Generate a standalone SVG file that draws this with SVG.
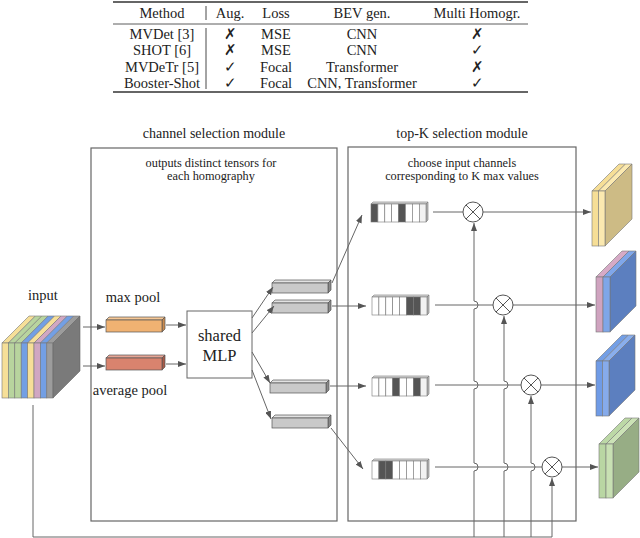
<svg xmlns="http://www.w3.org/2000/svg" width="640" height="538" viewBox="0 0 640 538">
<defs>
<style>
.t{font-family:"Liberation Serif","Times New Roman",serif;fill:#222;text-anchor:middle}
.tb{font-size:14.5px}
.lbl{font-size:14.5px}
.sub{font-size:12.3px}
.ln{stroke:#666;stroke-width:1;fill:none}
.box{stroke:#666;stroke-width:1.2;fill:none}
.tbl{stroke:#333;fill:none}
.edge{stroke:#555;stroke-width:0.7}
.cell{stroke:#777;stroke-width:0.6}
</style>
<marker id="ah" markerWidth="8" markerHeight="6" refX="8" refY="3" orient="auto" markerUnits="userSpaceOnUse">
<path d="M0,0 L8,3 L0,6 z" fill="#555"/>
</marker>
</defs>
<rect width="640" height="538" fill="#fff"/>

<g id="table">
<line class="tbl" x1="113" y1="2" x2="528" y2="2" stroke-width="1.6"/>
<line class="tbl" x1="113" y1="24" x2="528" y2="24" stroke-width="0.8"/>
<line class="tbl" x1="113" y1="92" x2="528" y2="92" stroke-width="1.6"/>
<line class="tbl" x1="206" y1="6" x2="206" y2="20" stroke-width="0.9"/>
<line class="tbl" x1="206" y1="28" x2="206" y2="89" stroke-width="0.9"/>
<g class="t tb">
<text x="162" y="18">Method</text><text x="230" y="18">Aug.</text><text x="276" y="18">Loss</text><text x="362" y="18">BEV gen.</text><text x="477" y="18">Multi Homogr.</text>
<text x="162" y="39">MVDet [3]</text><text x="230" y="39">✗</text><text x="276" y="39">MSE</text><text x="362" y="39">CNN</text><text x="477" y="39">✗</text>
<text x="162" y="55">SHOT [6]</text><text x="230" y="55">✗</text><text x="276" y="55">MSE</text><text x="362" y="55">CNN</text><text x="477" y="55">✓</text>
<text x="162" y="72">MVDeTr [5]</text><text x="230" y="72">✓</text><text x="276" y="72">Focal</text><text x="362" y="72">Transformer</text><text x="477" y="72">✗</text>
<text x="162" y="88">Booster-Shot</text><text x="230" y="88">✓</text><text x="276" y="88">Focal</text><text x="362" y="88">CNN, Transformer</text><text x="477" y="88">✓</text>
</g>
</g>

<g id="channel-selection-module">
<rect class="box" x="91" y="148" width="246" height="373"/>
<text class="t" x="214" y="138" font-size="14">channel selection module</text>
<text class="t sub" x="211" y="167">outputs distinct tensors for</text>
<text class="t sub" x="211" y="180">each homography</text>
</g>

<g id="topk-selection-module">
<rect class="box" x="348" y="147" width="228" height="374"/>
<text class="t" x="462" y="138" font-size="14">top-K selection module</text>
<text class="t sub" x="462" y="167">choose input channels</text>
<text class="t sub" x="462" y="180">corresponding to K max values</text>
</g>

<g id="input">
<text class="t lbl" x="43" y="300">input</text>
<g class="cell">
<polygon points="2,343 8.4,343 35.4,316 29,316" fill="#f6df98"/>
<polygon points="8.4,343 14.8,343 41.8,316 35.4,316" fill="#b8d49e"/>
<polygon points="14.8,343 21.2,343 48.2,316 41.8,316" fill="#b8d49e"/>
<polygon points="21.2,343 27.6,343 54.6,316 48.2,316" fill="#739fe4"/>
<polygon points="27.6,343 34,343 61,316 54.6,316" fill="#f6df98"/>
<polygon points="34,343 40.4,343 67.4,316 61,316" fill="#d0a7c2"/>
<polygon points="40.4,343 46.8,343 73.8,316 67.4,316" fill="#739fe4"/>
<polygon points="46.8,343 53,343 80,316 73.8,316" fill="#9c9c9c"/>
<rect x="2" y="343" width="6.4" height="55" fill="#f6df98"/>
<rect x="8.4" y="343" width="6.4" height="55" fill="#b8d49e"/>
<rect x="14.8" y="343" width="6.4" height="55" fill="#b8d49e"/>
<rect x="21.2" y="343" width="6.4" height="55" fill="#739fe4"/>
<rect x="27.6" y="343" width="6.4" height="55" fill="#f6df98"/>
<rect x="34" y="343" width="6.4" height="55" fill="#d0a7c2"/>
<rect x="40.4" y="343" width="6.4" height="55" fill="#739fe4"/>
<rect x="46.8" y="343" width="6.2" height="55" fill="#9c9c9c"/>
</g>
<polygon points="53,343 80,316 80,371 53,398" fill="#7a7a7a" stroke="#666" stroke-width="0.6"/>
</g>

<g id="max-pool">
<text class="t lbl" x="133" y="302">max pool</text>
<polygon points="106,320 109,317 165,317 162,320" fill="#f7c896" class="edge"/>
<polygon points="162,320 165,317 165,329 162,332" fill="#c98a4e" class="edge"/>
<rect x="106" y="320" width="56" height="12" fill="#f0b272" class="edge"/>
</g>

<g id="average-pool">
<text class="t lbl" x="130" y="395">average pool</text>
<polygon points="106,358 109,355 165,355 162,358" fill="#e6a595" class="edge"/>
<polygon points="162,358 165,355 165,367 162,370" fill="#a85a48" class="edge"/>
<rect x="106" y="358" width="56" height="12" fill="#d9836e" class="edge"/>
</g>

<g id="shared-mlp">
<rect x="187" y="311" width="65" height="67" fill="#fff" stroke="#666" stroke-width="1"/>
<text class="t" x="219.5" y="341" font-size="16.5">shared</text>
<text class="t" x="219.5" y="361" font-size="16.5">MLP</text>
</g>

<g id="tensors">
<g id="tensor-1"><polygon points="272,283 275,280 331,280 328,283" fill="#e2e2e2" class="edge"/><polygon points="328,283 331,280 331,290 328,293" fill="#8a8a8a" class="edge"/><rect x="272" y="283" width="56" height="10" fill="#c9c9c9" class="edge"/></g>
<g id="tensor-2"><polygon points="272,303 275,300 331,300 328,303" fill="#e2e2e2" class="edge"/><polygon points="328,303 331,300 331,310 328,313" fill="#8a8a8a" class="edge"/><rect x="272" y="303" width="56" height="10" fill="#c9c9c9" class="edge"/></g>
<g id="tensor-3"><polygon points="270,383 273,380 329,380 326,383" fill="#e2e2e2" class="edge"/><polygon points="326,383 329,380 329,390 326,393" fill="#8a8a8a" class="edge"/><rect x="270" y="383" width="56" height="10" fill="#c9c9c9" class="edge"/></g>
<g id="tensor-4"><polygon points="272,418 275,415 331,415 328,418" fill="#e2e2e2" class="edge"/><polygon points="328,418 331,415 331,425 328,428" fill="#8a8a8a" class="edge"/><rect x="272" y="418" width="56" height="10" fill="#c9c9c9" class="edge"/></g>
</g>

<g id="selection-bars" class="cell">
<g id="bar-1">
<polygon points="371,204 373,202 428,202 426,204" fill="#ddd"/>
<polygon points="426,204 428,202 428,220 426,222" fill="#bbb"/>
<rect x="371" y="204" width="6.9" height="18" fill="#555"/><rect x="377.9" y="204" width="6.9" height="18" fill="#fff"/><rect x="384.8" y="204" width="6.9" height="18" fill="#fff"/><rect x="391.7" y="204" width="6.9" height="18" fill="#fff"/><rect x="398.6" y="204" width="6.9" height="18" fill="#555"/><rect x="405.5" y="204" width="6.9" height="18" fill="#fff"/><rect x="412.4" y="204" width="6.9" height="18" fill="#fff"/><rect x="419.3" y="204" width="6.7" height="18" fill="#f2f2f2"/>
</g>
<g id="bar-2">
<polygon points="372,297 374,295 429,295 427,297" fill="#ddd"/>
<polygon points="427,297 429,295 429,313 427,315" fill="#bbb"/>
<rect x="372" y="297" width="6.9" height="18" fill="#fff"/><rect x="378.9" y="297" width="6.9" height="18" fill="#fff"/><rect x="385.8" y="297" width="6.9" height="18" fill="#fff"/><rect x="392.7" y="297" width="6.9" height="18" fill="#fff"/><rect x="399.6" y="297" width="6.9" height="18" fill="#fff"/><rect x="406.5" y="297" width="6.9" height="18" fill="#555"/><rect x="413.4" y="297" width="6.9" height="18" fill="#555"/><rect x="420.3" y="297" width="6.7" height="18" fill="#f2f2f2"/>
</g>
<g id="bar-3">
<polygon points="372,378 374,376 429,376 427,378" fill="#ddd"/>
<polygon points="427,378 429,376 429,394 427,396" fill="#bbb"/>
<rect x="372" y="378" width="6.9" height="18" fill="#fff"/><rect x="378.9" y="378" width="6.9" height="18" fill="#fff"/><rect x="385.8" y="378" width="6.9" height="18" fill="#fff"/><rect x="392.7" y="378" width="6.9" height="18" fill="#555"/><rect x="399.6" y="378" width="6.9" height="18" fill="#fff"/><rect x="406.5" y="378" width="6.9" height="18" fill="#fff"/><rect x="413.4" y="378" width="6.9" height="18" fill="#555"/><rect x="420.3" y="378" width="6.7" height="18" fill="#f2f2f2"/>
</g>
<g id="bar-4">
<polygon points="372,461 374,459 429,459 427,461" fill="#ddd"/>
<polygon points="427,461 429,459 429,477 427,479" fill="#bbb"/>
<rect x="372" y="461" width="6.9" height="18" fill="#fff"/><rect x="378.9" y="461" width="6.9" height="18" fill="#555"/><rect x="385.8" y="461" width="6.9" height="18" fill="#555"/><rect x="392.7" y="461" width="6.9" height="18" fill="#fff"/><rect x="399.6" y="461" width="6.9" height="18" fill="#fff"/><rect x="406.5" y="461" width="6.9" height="18" fill="#fff"/><rect x="413.4" y="461" width="6.9" height="18" fill="#fff"/><rect x="420.3" y="461" width="6.7" height="18" fill="#f2f2f2"/>
</g>
</g>

<g id="connectors" class="ln">
<path d="M83,327 H105" marker-end="url(#ah)"/>
<path d="M83,366 H105" marker-end="url(#ah)"/>
<path d="M166,325 H186" marker-end="url(#ah)"/>
<path d="M166,364 H186" marker-end="url(#ah)"/>
<path d="M252,318 L273,287" marker-end="url(#ah)"/>
<path d="M252,333 L274,306" marker-end="url(#ah)"/>
<path d="M252,352 L270,383" marker-end="url(#ah)"/>
<path d="M252,370 L271,419" marker-end="url(#ah)"/>
<path d="M332,283 L362,215" marker-end="url(#ah)"/>
<path d="M332,306 H366" marker-end="url(#ah)"/>
<path d="M330,386 H366" marker-end="url(#ah)"/>
<path d="M331,428 L363,469" marker-end="url(#ah)"/>
<path d="M433,212 H463"/>
<path d="M483,212 H591" marker-end="url(#ah)"/>
<path d="M435,305 H493"/>
<path d="M513,305 H595" marker-end="url(#ah)"/>
<path d="M435,385 H521"/>
<path d="M541,385 H595" marker-end="url(#ah)"/>
<path d="M435,467 H542"/>
<path d="M562,467 H598" marker-end="url(#ah)"/>
<path d="M33,405 V537 H552"/>
<path d="M474,537 V471 a4,4 0 0 0 0,-8 V389 a4,4 0 0 0 0,-8 V309 a4,4 0 0 0 0,-8 V223" marker-end="url(#ah)"/>
<path d="M504,537 V471 a4,4 0 0 0 0,-8 V389 a4,4 0 0 0 0,-8 V316" marker-end="url(#ah)"/>
<path d="M531,537 V471 a4,4 0 0 0 0,-8 V396" marker-end="url(#ah)"/>
<path d="M552,537 V478" marker-end="url(#ah)"/>
</g>

<g id="multipliers" fill="#fff" stroke="#555" stroke-width="1">
<g id="mul-1"><circle cx="473" cy="212" r="10"/><path d="M466,205 L480,219 M480,205 L466,219"/></g>
<g id="mul-2"><circle cx="503" cy="305" r="10"/><path d="M496,298 L510,312 M510,298 L496,312"/></g>
<g id="mul-3"><circle cx="531" cy="385" r="10"/><path d="M524,378 L538,392 M538,378 L524,392"/></g>
<g id="mul-4"><circle cx="552" cy="467" r="10"/><path d="M545,460 L559,474 M559,460 L545,474"/></g>
</g>

<g id="outputs" stroke="#777" stroke-width="0.6">
<g id="out-1">
<polygon points="592,191 598.5,191 625.5,164 619,164" fill="#f6de96"/>
<polygon points="598.5,191 605,191 632,164 625.5,164" fill="#fbe9b0"/>
<polygon points="605,191 632,164 632,219 605,246" fill="#cdbb85"/>
<rect x="592" y="191" width="6.5" height="55" fill="#f6de96"/><rect x="598.5" y="191" width="6.5" height="55" fill="#fbe9b0"/>
</g>
<g id="out-2">
<polygon points="596,277 603,277 629,251 622,251" fill="#d6aac6"/>
<polygon points="603,277 610,277 636,251 629,251" fill="#80a7ea"/>
<polygon points="610,277 636,251 636,306 610,332" fill="#5c7fbf"/>
<rect x="596" y="277" width="7" height="55" fill="#cfa3bf"/><rect x="603" y="277" width="7" height="55" fill="#7ea6e8"/>
</g>
<g id="out-3">
<polygon points="596,361 602.5,361 628.5,335 622,335" fill="#739fe6"/>
<polygon points="602.5,361 609,361 635,335 628.5,335" fill="#89aeec"/>
<polygon points="609,361 635,335 635,390 609,416" fill="#5c7fbf"/>
<rect x="596" y="361" width="6.5" height="55" fill="#6f9be6"/><rect x="602.5" y="361" width="6.5" height="55" fill="#86abeb"/>
</g>
<g id="out-4">
<polygon points="599,444 606,444 632,418 625,418" fill="#bcd8a6"/>
<polygon points="606,444 613,444 639,418 632,418" fill="#cbe2b6"/>
<polygon points="613,444 639,418 639,472 613,498" fill="#97ad85"/>
<rect x="599" y="444" width="7" height="54" fill="#b9d6a3"/><rect x="606" y="444" width="7" height="54" fill="#c8e0b3"/>
</g>
</g>
</svg>
